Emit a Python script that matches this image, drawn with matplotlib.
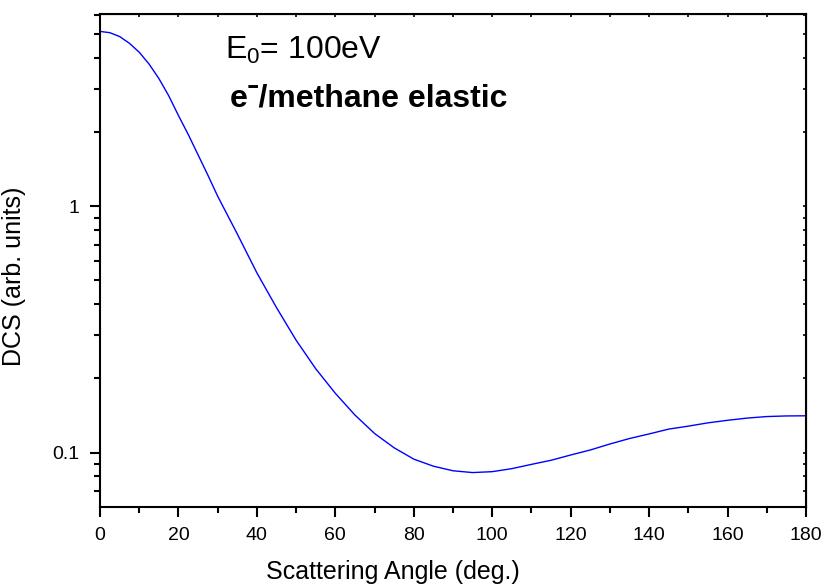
import matplotlib
matplotlib.use("Agg")
import matplotlib.pyplot as plt
import matplotlib.ticker as mticker

plt.rcParams["font.family"] = ["Liberation Sans", "DejaVu Sans"]
plt.rcParams["mathtext.fontset"] = "custom"
plt.rcParams["mathtext.rm"] = "Liberation Sans"
plt.rcParams["mathtext.it"] = "Liberation Sans"
plt.rcParams["mathtext.bf"] = "Liberation Sans:bold"

# scattering angle (deg) and DCS (arb. units)
angle = [0, 2.5, 5, 7.5, 10, 12.5, 15, 17.5, 20, 22.5, 25, 27.5, 30, 35, 40,
         45, 50, 55, 60, 65, 70, 75, 80, 85, 90, 95, 100, 105, 110, 115, 120,
         125, 130, 135, 140, 145, 150, 155, 160, 165, 170, 175, 180]
dcs = [5.14, 5.08, 4.90, 4.60, 4.23, 3.79, 3.31, 2.82, 2.34, 1.96, 1.62, 1.34,
       1.10, 0.773, 0.537, 0.388, 0.286, 0.219, 0.174, 0.142, 0.1195, 0.1045,
       0.0940, 0.0880, 0.0843, 0.0829, 0.0836, 0.086, 0.0895, 0.093, 0.0977,
       0.1024, 0.1083, 0.114, 0.119, 0.1245, 0.128, 0.132, 0.1352, 0.138,
       0.140, 0.1408, 0.141]

x_major = [0, 20, 40, 60, 80, 100, 120, 140, 160, 180]
y_major = [0.1, 1]
y_labels = ["0.1", "1"]
y_minor = [0.07, 0.08, 0.09, 0.2, 0.3, 0.4, 0.5, 0.6, 0.7, 0.8, 0.9, 2, 3, 4, 5, 6]

fig = plt.figure(figsize=(8.25, 5.86), dpi=100)
ax = fig.add_axes([100 / 825, 1 - 507.3 / 586, 706 / 825, 493.3 / 586])

ax.plot(angle, dcs, color="#0000ff", linewidth=1.0)

ax.set_yscale("log")
ax.set_xlim(0, 180)
ax.set_ylim(0.0599, 6.05)

ax.set_xticks(x_major)
ax.xaxis.set_minor_locator(mticker.MultipleLocator(10))
ax.set_yticks(y_major, y_labels)
ax.set_yticks(y_minor, minor=True)
ax.yaxis.set_minor_formatter(mticker.NullFormatter())

for side in ["left", "right", "top", "bottom"]:
    ax.spines[side].set_linewidth(1.5)

ax.tick_params(which="both", labelsize=14, width=1.5, direction="out", pad=7,
               top=False, right=False)
ax.tick_params(which="major", length=7.5)
ax.tick_params(which="minor", length=4.5)

# short inward ticks along top and right
ax_t = ax.secondary_xaxis("top")
ax_t.set_xticks(x_major)
ax_t.xaxis.set_minor_locator(mticker.MultipleLocator(10))
ax_t.tick_params(which="both", direction="in", length=2.5, width=1.2,
                 labeltop=False)
ax_r = ax.secondary_yaxis("right")
ax_r.set_yticks(y_major)
ax_r.set_yticks(y_minor, minor=True)
ax_r.tick_params(which="both", direction="in", length=2.5, width=1.2,
                 labelright=False)

ax.set_xlabel("Scattering Angle (deg.)", fontsize=18)
ax.xaxis.set_label_coords(0.415, -0.107)
ax.set_ylabel("DCS (arb. units)", fontsize=18)
ax.yaxis.set_label_coords(-0.105, 0.469)

ax.text(0.177, 0.909, r"E$_0$= 100eV", transform=ax.transAxes,
        fontsize=23, va="baseline", ha="left")
ax.text(0.184, 0.8115, "e\u02c9/methane elastic", transform=ax.transAxes,
        fontsize=23, fontweight="bold", va="baseline", ha="left")

fig.savefig("out.png", dpi=100)
